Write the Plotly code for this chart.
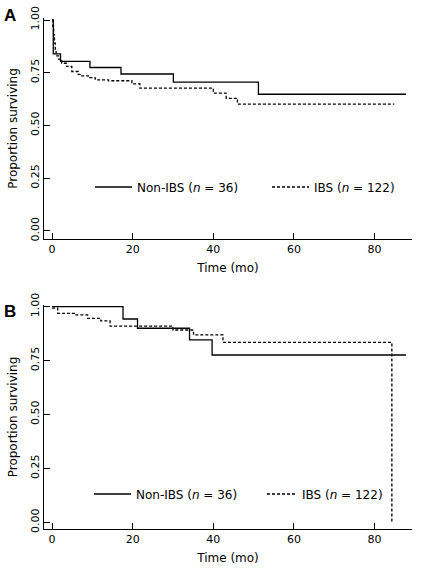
import plotly.graph_objects as go

# Panel A (Kaplan-Meier)
a_nonibs_t = [0, 0.3, 2.1, 9.4, 17.1, 30.1, 51.2, 87.8]
a_nonibs_s = [1.0, 0.839, 0.804, 0.775, 0.744, 0.706, 0.648, 0.648]
a_ibs_t = [0, 0.2, 0.4, 0.6, 0.8, 1.0, 1.6, 2.4, 3.6, 4.9, 6.5, 7.4, 9.4, 10.7, 14.0, 19.8, 21.8, 40.0, 43.2, 46.0, 84.9]
a_ibs_s = [1.0, 0.97, 0.93, 0.89, 0.86, 0.83, 0.815, 0.795, 0.78, 0.756, 0.742, 0.735, 0.727, 0.716, 0.712, 0.697, 0.677, 0.653, 0.629, 0.601, 0.601]

# Panel B
b_nonibs_t = [0, 17.6, 21.2, 34.1, 39.7, 87.8]
b_nonibs_s = [1.0, 0.943, 0.900, 0.846, 0.776, 0.776]
b_ibs_t = [0, 1.4, 5.5, 8.8, 12.1, 14.4, 30.0, 35.1, 42.4, 84.3]
b_ibs_s = [0.993, 0.969, 0.962, 0.946, 0.934, 0.910, 0.892, 0.869, 0.835, 0.0]

x_ticks = [0, 20, 40, 60, 80]
y_ticks = [0.0, 0.25, 0.5, 0.75, 1.0]
y_ticklabels = ["0.00", "0.25", "0.50", "0.75", "1.00"]

name_non = "Non-IBS (<i>n</i> = 36)"
name_ibs = "IBS (<i>n</i> = 122)"

FONT = "DejaVu Sans"
solid = dict(color="black", width=1.3, shape="hv")
dashed = dict(color="black", width=1.3, shape="hv", dash="3px,2px")

fig = go.Figure()
fig.add_trace(go.Scatter(x=a_nonibs_t, y=a_nonibs_s, mode="lines", line=solid,
                         name=name_non, xaxis="x", yaxis="y", legend="legend"))
fig.add_trace(go.Scatter(x=a_ibs_t, y=a_ibs_s, mode="lines", line=dashed,
                         name=name_ibs, xaxis="x", yaxis="y", legend="legend2"))
fig.add_trace(go.Scatter(x=b_nonibs_t, y=b_nonibs_s, mode="lines", line=solid,
                         name=name_non, xaxis="x2", yaxis="y2", legend="legend3"))
fig.add_trace(go.Scatter(x=b_ibs_t, y=b_ibs_s, mode="lines", line=dashed,
                         name=name_ibs, xaxis="x2", yaxis="y2", legend="legend4"))

xcommon = dict(range=[-2, 89.3], tickvals=x_ticks, ticks="inside", ticklen=6,
               tickcolor="black", showline=True, linecolor="black", linewidth=1,
               showgrid=False, zeroline=False, automargin=False,
               tickfont=dict(family=FONT, size=11, color="black"),
               title=dict(text="Time (mo)", font=dict(family=FONT, size=12, color="black"), standoff=8))
ycommon = dict(tickvals=y_ticks, ticktext=y_ticklabels, ticks="inside", ticklen=6,
               tickcolor="black", showline=True, linecolor="black", linewidth=1,
               showgrid=False, zeroline=False, tickangle=-90, automargin=False,
               tickfont=dict(family=FONT, size=11, color="black"),
               title=dict(text="Proportion surviving", font=dict(family=FONT, size=12, color="black"), standoff=8))

legcommon = dict(orientation="h", xanchor="left", yanchor="middle", bgcolor="rgba(0,0,0,0)",
                 font=dict(family=FONT, size=12, color="black"), itemclick=False, borderwidth=0)

def px_x(p):
    return (p - 44) / 368.0

def px_y(p):
    return (529 - p) / 511.0

fig.update_layout(
    width=424, height=571,
    margin=dict(l=44, r=12, t=18, b=42, autoexpand=False),
    paper_bgcolor="white", plot_bgcolor="white",
    xaxis=dict(xcommon, domain=[0, 1], anchor="y"),
    yaxis=dict(ycommon, domain=[0.5675, 1.0], range=[-0.038, 1.0095], anchor="x"),
    xaxis2=dict(xcommon, domain=[0, 1], anchor="y2"),
    yaxis2=dict(ycommon, domain=[0.0, 0.4384], range=[-0.031, 1.008], anchor="x2"),
    legend=dict(legcommon, x=px_x(90), y=px_y(187), itemwidth=37),
    legend2=dict(legcommon, x=px_x(267), y=px_y(187), itemwidth=37),
    legend3=dict(legcommon, x=px_x(89), y=px_y(494), itemwidth=37),
    legend4=dict(legcommon, x=px_x(262), y=px_y(494), itemwidth=30),
    showlegend=True,
    annotations=[
        dict(text="<b>A</b>", x=px_x(10), y=px_y(16), xref="paper", yref="paper", showarrow=False,
             font=dict(family="Liberation Sans", size=17, color="black"), xanchor="center", yanchor="middle"),
        dict(text="<b>B</b>", x=px_x(10), y=px_y(311), xref="paper", yref="paper", showarrow=False,
             font=dict(family="Liberation Sans", size=17, color="black"), xanchor="center", yanchor="middle"),
    ],
)

fig.write_html("out.html", config={"displayModeBar": False},
               post_script="document.body.style.margin='0';")
